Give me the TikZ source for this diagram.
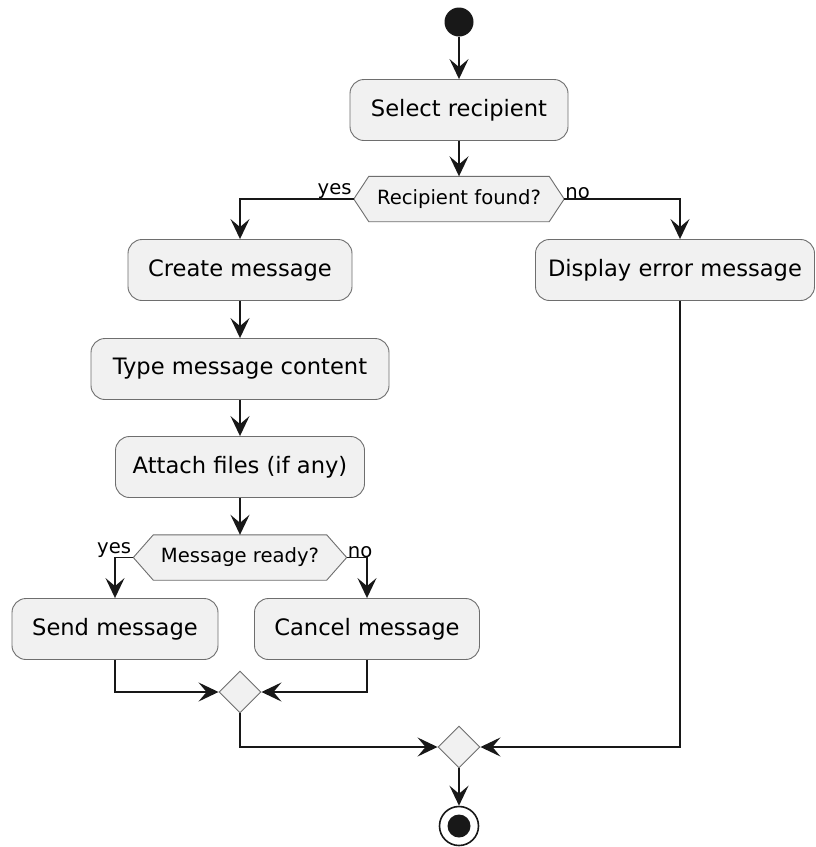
\documentclass[tikz,border=0pt]{standalone}
\usepackage{fontspec}
\setmainfont{DejaVu Sans}
\usetikzlibrary{arrows.meta,shapes.geometric}
\pgfdeclarelayer{background}
\pgfsetlayers{background,main}
\definecolor{boxfill}{HTML}{F1F1F1}
\definecolor{boxline}{HTML}{6E6E6E}
\definecolor{ink}{HTML}{181818}
\begin{document}
\begin{tikzpicture}[x=1pt,y=-1pt,
  actbox/.style={draw=boxline,line width=0.9pt,fill=boxfill,rounded corners=14pt,
    minimum height=61pt,inner sep=0pt,font=\fontsize{22.6}{27}\selectfont},
  condtext/.style={inner sep=0pt,minimum height=45pt,font=\fontsize{19.6}{24}\selectfont},
  hexshape/.style={draw=boxline,line width=0.9pt,fill=boxfill},
  merge/.style={diamond,draw=boxline,line width=0.9pt,fill=boxfill,inner sep=0pt,
    minimum width=42pt,minimum height=42pt},
  guard/.style={inner sep=1pt,font=\fontsize{19.6}{24}\selectfont},
  flow/.style={draw=ink,line width=1.6pt,
    -{Stealth[length=20pt,width=19pt,inset=8pt]}},
  plain/.style={draw=ink,line width=1.6pt}]
\useasboundingbox (0,0) rectangle (816,847);

% start / stop markers
\node[circle,fill=ink,minimum size=29pt,inner sep=0pt] (start) at (459,22) {};
\node[circle,draw=ink,line width=1.6pt,minimum size=39pt,inner sep=0pt] (stop) at (459,826) {};
\node[circle,fill=ink,minimum size=23pt,inner sep=0pt] (stopdot) at (459,826) {};

% actions
\node[actbox,minimum width=218pt] (sel) at (459,110) {Select recipient};
\node[actbox,minimum width=224pt] (cre) at (240,270) {Create message};
\node[actbox,minimum width=279pt] (err) at (675,270) {Display error message};
\node[actbox,minimum width=298pt] (typ) at (240,369) {Type message content};
\node[actbox,minimum width=249pt] (att) at (240,467) {Attach files (if any)};
\node[actbox,minimum width=206pt] (snd) at (115,629) {Send message};
\node[actbox,minimum width=225pt] (cnc) at (367,629) {Cancel message};

% decisions: text boxes with hexagon outlines behind them
\node[condtext,minimum width=180pt] (d1) at (459,199) {Recipient found?};
\coordinate (d1l) at ([xshift=-15pt]d1.west);
\coordinate (d1r) at ([xshift=15pt]d1.east);
\node[condtext,minimum width=173pt] (d2) at (240,557.5) {Message ready?};
\coordinate (d2l) at ([xshift=-20pt]d2.west);
\coordinate (d2r) at ([xshift=20pt]d2.east);
\begin{pgfonlayer}{background}
\fill[white] (0,0) rectangle (816,847);
\path[hexshape] (d1.north west) -- (d1.north east) -- (d1r) -- (d1.south east)
  -- (d1.south west) -- (d1l) -- cycle;
\path[hexshape] (d2.north west) -- (d2.north east) -- (d2r) -- (d2.south east)
  -- (d2.south west) -- (d2l) -- cycle;
\end{pgfonlayer}

% merge points
\node[merge] (m1) at (240,692) {};
\node[merge] (m2) at (459,747) {};

% branch labels
\node[guard,anchor=south east] (y1) at ([xshift=-1pt,yshift=-1pt]d1l) {yes};
\node[guard,anchor=south west] (n1) at ([yshift=-1pt]d1r) {no};
\node[guard,anchor=south east] (y2) at ([xshift=-1pt,yshift=-1pt]d2l) {yes};
\node[guard,anchor=south west] (n2) at ([yshift=-1pt]d2r) {no};

% connectors
\path[flow] (start) -- (sel);
\path[flow] (sel) -- (d1.north);
\path[flow] (d1l) -| (cre.north);
\path[flow] (d1r) -| ([xshift=5pt]err.north);
\path[flow] (cre) -- (typ);
\path[flow] (typ) -- (att);
\path[flow] (att) -- (d2.north);
\path[flow] (d2l) -| (snd.north);
\path[flow] (d2r) -| (cnc.north);
\path[flow] (snd.south) |- (m1.west);
\path[flow] (cnc.south) |- (m1.east);
\path[flow] (m1.south) |- (m2.west);
\path[flow] ([xshift=5pt]err.south) |- (m2.east);
\path[flow] (m2.south) -- (stop.north);
\end{tikzpicture}
\end{document}
